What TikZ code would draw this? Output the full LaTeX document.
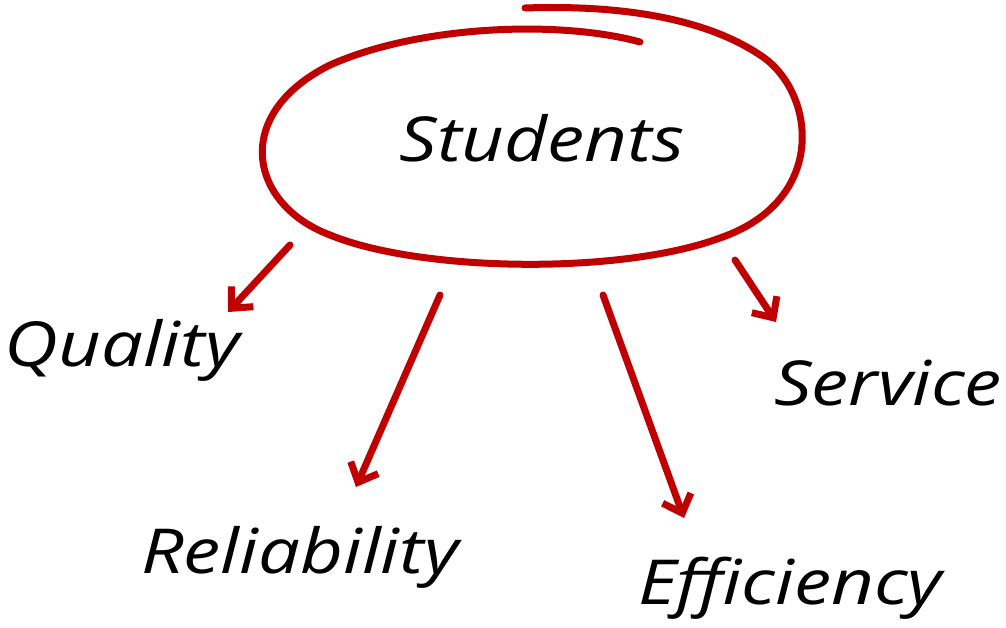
\documentclass[tikz,border=0pt]{standalone}
\usepackage{fontspec}
\setmainfont{Open Sans}
\usetikzlibrary{arrows.meta}
\definecolor{pen}{HTML}{C00000}
\tikzset{
  penline/.style={draw=pen, line width=7pt, line cap=round, line join=round},
  arr/.style={penline, -{Straight Barb[length=16pt,width=30pt,line width=7pt]}},
  word/.style={font=\itshape\fontsize{62}{68}\selectfont, inner sep=0pt, xscale=1.2, transform shape}
}
\begin{document}
\begin{tikzpicture}[x=1pt,y=-1pt]
\useasboundingbox (0,0) rectangle (1006,628);
\draw[penline] (640,42) .. controls (560,20) and (420,25) .. (330,65)
  .. controls (230,115) and (250,205) .. (330,235)
  .. controls (420,272) and (620,275) .. (720,238)
  .. controls (830,200) and (815,90) .. (760,55)
  .. controls (700,15) and (610,5) .. (525,8);
\node[word] (s) at (542,138) {Students};
\node[word] (q) at (122,350) {Quality};
\node[word] (r) at (300,557) {Reliability};
\node[word] (e) at (790,588) {Efficiency};
\node[word] (v) at (888,383) {Service};
\coordinate (a1) at (290,245); \coordinate (b1) at (228,312);
\coordinate (a2) at (440,295); \coordinate (b2) at (356,487);
\coordinate (a3) at (603,295); \coordinate (b3) at (684,518);
\coordinate (a4) at (735,260); \coordinate (b4) at (776,322);
\draw[arr] (a1) -- (b1);
\draw[arr] (a2) -- (b2);
\draw[arr] (a3) -- (b3);
\draw[arr] (a4) -- (b4);
\end{tikzpicture}
\end{document}
